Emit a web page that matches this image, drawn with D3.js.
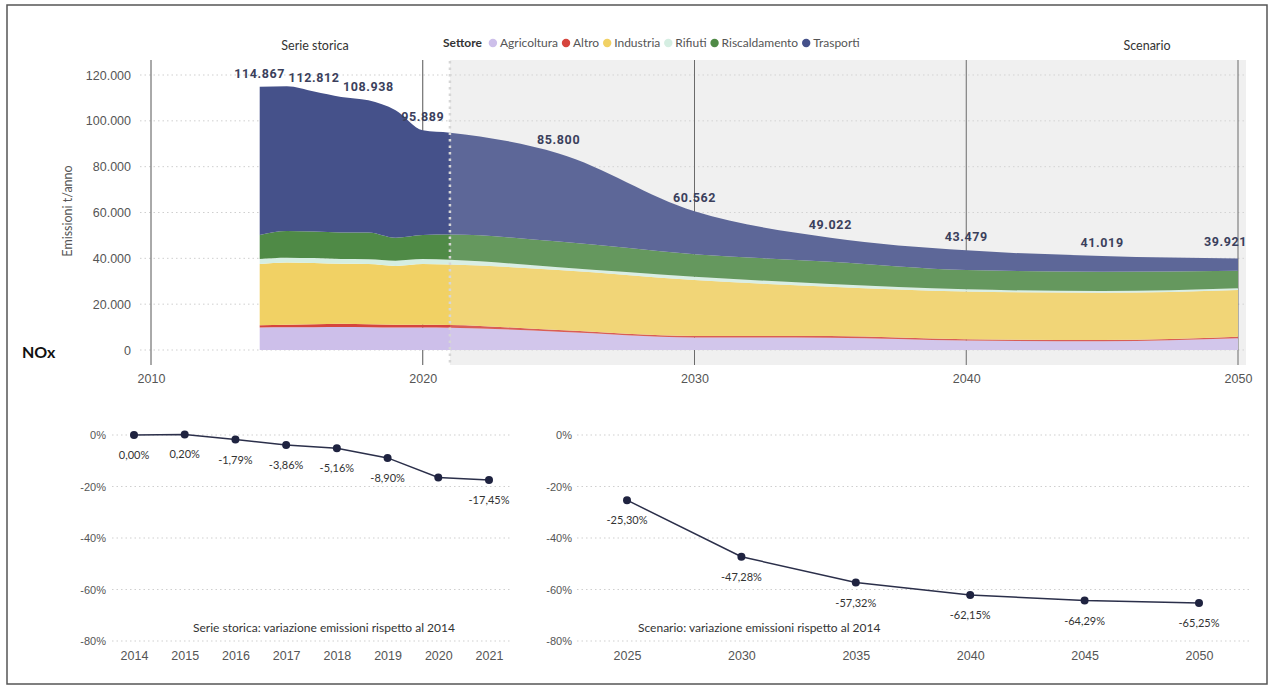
<!DOCTYPE html>

<head>
    <meta charset="utf-8">
    <script src="https://d3js.org/d3.v7.min.js"></script>
    <style>
        body {
            margin: 0;
            background: #ffffff;
            font-family: Lato, "Open Sans", sans-serif;
        }

        text {
            fill: #555555;
        }

        text.total {
            font-family: Roboto, sans-serif;
            font-weight: 700;
            font-size: 12.5px;
            fill: #3b3f5c;
            letter-spacing: 0.6px;
        }

        text.section {
            font-size: 12.5px;
            fill: #333333;
        }

        text.legendTitle {
            font-size: 12px;
            font-weight: 700;
            fill: #333333;
        }

        text.legendLabel {
            font-size: 12px;
            fill: #555555;
        }

        text.pctLabel {
            font-size: 11px;
            fill: #333333;
        }

        text.subTitle {
            font-size: 12px;
            fill: #333333;
        }

        .axis text {
            font-size: 12.5px;
            fill: #555555;
        }

        .pctAxis text {
            font-size: 11px;
        }

        path.domain {
            display: none;
        }

        line.grid {
            stroke: #cfcfcf;
            stroke-dasharray: 1.5 3;
        }
    </style>
</head>

<body>
    <div id="chart"></div>
    <script>
        // ---- data ----
        const histYears = [2014, 2015, 2016, 2017, 2018, 2019, 2020, 2021];
        const scenYears = [2025, 2030, 2035, 2040, 2045, 2050];

        const sectors = ['Agricoltura', 'Altro', 'Industria', 'Rifiuti', 'Riscaldamento', 'Trasporti'];
        const sectorColors = ['#CDBFEA', '#D6453D', '#F1D164', '#D5EEE2', '#4F8A46', '#45518A'];

        // t/anno, historical years then scenario years
        const agricoltura = [9800, 9900, 9900, 10000, 9900, 9800, 9800, 9700, 8000, 5500, 5400, 4100, 3800, 5100];
        const altro = [1000, 1100, 1300, 1500, 1300, 1200, 1200, 1200, 700, 600, 700, 600, 600, 700];
        const industria = [26700, 27200, 26800, 26100, 26300, 25700, 26500, 26400, 26200, 24400, 21500, 20800, 20600, 20400];
        const rifiuti = [2200, 2100, 2100, 2100, 2100, 2300, 2200, 2100, 1200, 1500, 1200, 1000, 700, 700];
        const riscaldamento = [10500, 11600, 11600, 11600, 11700, 10000, 10500, 11000, 11200, 9800, 9700, 8400, 8500, 7700];
        const trasporti = [64667, 63197, 61112, 59133, 57638, 55644, 45689, 44423, 38500, 18762, 10522, 8579, 6819, 5321];

        const labelYears = [2014, 2016, 2018, 2020, 2025, 2030, 2035, 2040, 2045, 2050];
        const yTicks = [0, 20000, 40000, 60000, 80000, 100000, 120000];
        const xTicks = [2010, 2020, 2030, 2040, 2050];

        // variazione % rispetto al 2014
        const histPct = [0.00, 0.20, -1.79, -3.86, -5.16, -8.90, -16.52, -17.45];
        const scenPct = [-25.30, -47.28, -57.32, -62.15, -64.29, -65.25];
        const histHidden = [2020];
        const pctTicks = [0, -20, -40, -60, -80];

        const it = d3.formatLocale({
            decimal: ',',
            thousands: '.',
            grouping: [3],
            currency: ['€', ''],
            minus: '-'
        });

        const width = 1272,
            height = 689;

        var svg = d3.select('#chart').append('svg')
            .attr('width', width)
            .attr('height', height);

        // outer frame
        svg.append('rect')
            .attr('x', 7).attr('y', 5)
            .attr('width', 1260).attr('height', 679)
            .attr('fill', 'none')
            .attr('stroke', '#555')
            .attr('stroke-width', 1.5);

        // ---------- top: stacked area ----------
        let x = d3.scaleLinear().domain([2010, 2050]).range([151, 1238]);
        let y = d3.scaleLinear().domain([0, 120000]).range([350, 75]);

        let years = histYears.concat(scenYears);
        let series = [agricoltura, altro, industria, rifiuti, riscaldamento, trasporti];
        let rows = years.map((yr, i) => {
            let r = { year: yr };
            sectors.forEach((s, j) => r[s] = series[j][i]);
            return r;
        });

        let stacked = d3.stack().keys(sectors)(rows);
        let lastYear = histYears[histYears.length - 1];
        let endYear = scenYears[scenYears.length - 1];

        // scenario background
        svg.append('rect')
            .attr('x', x(lastYear)).attr('y', 60)
            .attr('width', 1246 - x(lastYear)).attr('height', 305)
            .attr('fill', '#f0f0f0');

        svg.append('g').selectAll('line')
            .data(yTicks)
            .join('line')
            .attr('class', 'grid')
            .attr('x1', 140).attr('x2', 1246)
            .attr('y1', d => y(d)).attr('y2', d => y(d));

        svg.append('g').selectAll('line')
            .data(xTicks)
            .join('line')
            .attr('x1', d => x(d)).attr('x2', d => x(d))
            .attr('y1', 60).attr('y2', 365)
            .attr('stroke', '#555')
            .attr('stroke-width', 1);

        let area = d3.area()
            .x(d => x(d.data.year))
            .y0(d => y(d[0]))
            .y1(d => y(d[1]))
            .curve(d3.curveMonotoneX);

        svg.append('g').selectAll('path')
            .data(stacked)
            .join('path')
            .attr('d', area)
            .attr('fill', (d, i) => sectorColors[i]);

        // lighter veil over the scenario part
        svg.append('rect')
            .attr('x', x(lastYear)).attr('y', 60)
            .attr('width', 1246 - x(lastYear)).attr('height', 305)
            .attr('fill', '#f0f0f0')
            .attr('opacity', 0.14);

        svg.append('line')
            .attr('x1', x(lastYear)).attr('x2', x(lastYear))
            .attr('y1', 61).attr('y2', 365)
            .attr('stroke', '#d6d6d6')
            .attr('stroke-width', 2.5)
            .attr('stroke-dasharray', '2.5 4');

        let yAxis = d3.axisLeft(y).tickValues(yTicks).tickSize(0).tickPadding(0)
            .tickFormat(d => it.format(',')(d));
        svg.append('g')
            .attr('class', 'axis')
            .attr('transform', 'translate(131,0)')
            .call(yAxis);

        let xAxis = d3.axisBottom(x).tickValues(xTicks).tickSize(0).tickPadding(0)
            .tickFormat(d3.format('d'));
        svg.append('g')
            .attr('class', 'axis')
            .attr('transform', 'translate(0,374)')
            .call(xAxis);

        svg.append('text')
            .attr('class', 'axis')
            .attr('transform', 'translate(72,211) rotate(-90)')
            .style('text-anchor', 'middle')
            .style('font-size', '12.5px')
            .text('Emissioni t/anno');

        let topLayer = stacked[stacked.length - 1];
        svg.append('g').selectAll('text')
            .data(topLayer.filter(d => labelYears.includes(d.data.year)))
            .join('text')
            .attr('class', 'total')
            .attr('x', d => d.data.year == endYear ? x(d.data.year) + 9 : x(d.data.year))
            .attr('y', d => y(d[1]) - (d.data.year == endYear ? 13 : 9))
            .style('text-anchor', d => d.data.year == endYear ? 'end' : 'middle')
            .text(d => it.format(',')(d[1]));

        svg.append('text')
            .attr('x', 22).attr('y', 358)
            .style('font-size', '16px')
            .style('font-weight', 700)
            .style('fill', '#111')
            .text('NOx');

        svg.append('text').attr('class', 'section')
            .attr('x', 315).attr('y', 50)
            .style('text-anchor', 'middle')
            .text('Serie storica');

        svg.append('text').attr('class', 'section')
            .attr('x', 1147).attr('y', 50)
            .style('text-anchor', 'middle')
            .text('Scenario');

        // legend
        let legend = svg.append('g').attr('transform', 'translate(443,47)');
        let lt = legend.append('text').attr('class', 'legendTitle').text('Settore');
        let cursor = lt.node().getComputedTextLength() + 11;
        sectors.forEach((s, i) => {
            legend.append('circle')
                .attr('cx', cursor).attr('cy', -4)
                .attr('r', 4.2)
                .attr('fill', sectorColors[i]);
            let t = legend.append('text').attr('class', 'legendLabel')
                .attr('x', cursor + 7)
                .text(s);
            cursor += 7 + t.node().getComputedTextLength() + 8;
        });

        // ---------- bottom: percentage lines ----------
        let yp = d3.scaleLinear().domain([-80, 0]).range([641, 435]);

        function pctChart(yrs, vals, hidden, xRange, gridRange, axisX, title, titleX) {
            let xp = d3.scaleLinear().domain([yrs[0], yrs[yrs.length - 1]]).range(xRange);
            let g = svg.append('g');

            g.append('g').selectAll('line')
                .data(pctTicks)
                .join('line')
                .attr('class', 'grid')
                .attr('x1', gridRange[0]).attr('x2', gridRange[1])
                .attr('y1', d => yp(d)).attr('y2', d => yp(d));

            g.append('g')
                .attr('class', 'axis pctAxis')
                .attr('transform', `translate(${axisX},0)`)
                .call(d3.axisLeft(yp).tickValues(pctTicks).tickSize(0).tickPadding(0)
                    .tickFormat(d => d + '%'));

            g.append('g')
                .attr('class', 'axis')
                .attr('transform', 'translate(0,651)')
                .call(d3.axisBottom(xp).tickValues(yrs).tickSize(0).tickPadding(0)
                    .tickFormat(d3.format('d')));

            g.append('text').attr('class', 'subTitle')
                .attr('x', titleX).attr('y', 632)
                .text(title);

            let pts = yrs.map((yr, i) => ({ year: yr, v: vals[i] }));

            g.append('path')
                .datum(pts)
                .attr('fill', 'none')
                .attr('stroke', '#2b2f4a')
                .attr('stroke-width', 1.5)
                .attr('d', d3.line().x(d => xp(d.year)).y(d => yp(d.v)));

            g.append('g').selectAll('circle')
                .data(pts)
                .join('circle')
                .attr('cx', d => xp(d.year))
                .attr('cy', d => yp(d.v))
                .attr('r', 4)
                .attr('fill', '#1f2340');

            g.append('g').selectAll('text')
                .data(pts.filter(d => !hidden.includes(d.year)))
                .join('text')
                .attr('class', 'pctLabel')
                .attr('x', d => xp(d.year))
                .attr('y', d => yp(d.v) + 24)
                .style('text-anchor', 'middle')
                .text(d => it.format('.2f')(d.v) + '%');
        }

        pctChart(histYears, histPct, histHidden, [134, 489], [112, 512], 106,
            'Serie storica: variazione emissioni rispetto al 2014', 193);
        pctChart(scenYears, scenPct, [], [627, 1199], [577, 1250], 572,
            'Scenario: variazione emissioni rispetto al 2014', 638);
    </script>
</body>
